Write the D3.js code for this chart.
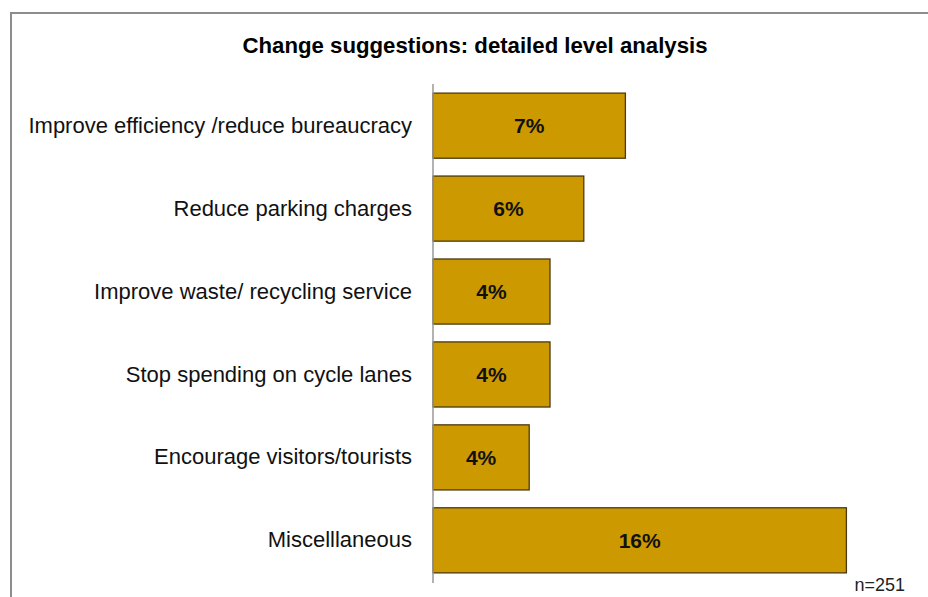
<!DOCTYPE html>
<html>
<head>
<meta charset="utf-8">
<script src="https://cdn.jsdelivr.net/npm/d3@7"></script>
<style>
  body { margin: 0; background: #fff; }
  svg { display: block; font-family: "Liberation Sans", Arial, sans-serif; }
</style>
</head>
<body>
<svg id="chart" width="928" height="597"></svg>
<script>
const categories = [
  "Improve efficiency /reduce bureaucracy",
  "Reduce parking charges",
  "Improve waste/ recycling service",
  "Stop spending on cycle lanes",
  "Encourage visitors/tourists",
  "Miscelllaneous"
];
const values = [7.4, 5.8, 4.5, 4.5, 3.7, 15.9];
const valueLabels = ["7%", "6%", "4%", "4%", "4%", "16%"];
const title = "Change suggestions: detailed level analysis";
const note = "n=251";

const width = 928, height = 597;
const axisX = 433;

const svg = d3.select("#chart");

// frame
svg.append("rect")
  .attr("x", 11).attr("y", 13)
  .attr("width", 940).attr("height", 620)
  .attr("fill", "none")
  .attr("stroke", "#8c8c8c")
  .attr("stroke-width", 2);

svg.append("text")
  .attr("x", 475).attr("y", 53)
  .attr("text-anchor", "middle")
  .style("font-weight", "bold")
  .style("font-size", "22px")
  .attr("textLength", 465)
  .attr("lengthAdjust", "spacingAndGlyphs")
  .text(title);

const x = d3.scaleLinear().domain([0, 16]).range([axisX, axisX + 416]);
const y = d3.scaleBand()
  .domain(categories)
  .range([84, 582])
  .paddingInner(0.215)
  .paddingOuter(0.11);

const data = categories.map((c, i) => ({ label: c, value: values[i], text: valueLabels[i] }));

const bars = svg.append("g").selectAll("g.bar").data(data).enter().append("g").attr("class", "bar");

bars.append("rect")
  .attr("x", x(0))
  .attr("y", d => y(d.label))
  .attr("width", d => x(d.value) - x(0))
  .attr("height", y.bandwidth())
  .attr("fill", "#cc9900")
  .attr("stroke", "#4a3a10")
  .attr("stroke-width", 1.3);

bars.append("text")
  .attr("x", d => (x(0) + x(d.value)) / 2)
  .attr("y", d => y(d.label) + y.bandwidth() / 2)
  .attr("dy", "0.36em")
  .attr("text-anchor", "middle")
  .style("font-weight", "bold")
  .style("font-size", "21px")
  .attr("fill", "#111")
  .text(d => d.text);

// category axis
const axis = svg.append("g")
  .attr("transform", `translate(${axisX},0)`)
  .call(d3.axisLeft(y).tickSize(0).tickPadding(21));
axis.select(".domain").attr("stroke", "#999").attr("stroke-width", 1.5)
  .attr("d", "M0,84V583");
axis.selectAll(".tick text")
  .style("font-size", "22px")
  .attr("fill", "#111")
  .attr("font-family", "Liberation Sans, Arial, sans-serif");

svg.append("text")
  .attr("x", 905).attr("y", 591)
  .attr("text-anchor", "end")
  .style("font-size", "18px")
  .attr("fill", "#222")
  .text(note);
</script>
</body>
</html>
